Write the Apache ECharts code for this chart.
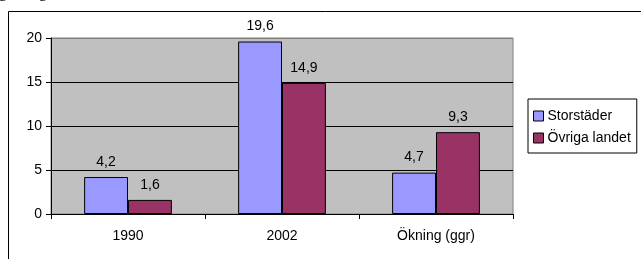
<!DOCTYPE html>
<html><head><meta charset="utf-8">
<script src="https://cdn.jsdelivr.net/npm/echarts@6/dist/echarts.min.js"></script>
<style>html,body{margin:0;padding:0;background:#fff}#c{width:641px;height:259px}</style>
</head><body><div id="c"></div>
<script>
var categories = ['1990', '2002', 'Ökning (ggr)'];
var storstader = [4.2, 19.6, 4.7];
var ovrigaLandet = [1.6, 14.9, 9.3];
var seriesNames = ['Storstäder', 'Övriga landet'];
var yTicks = {min: 0, max: 20, interval: 5};

var FONT = 'Liberation Sans, Arial, sans-serif';
function fmt(p){ return String(p.value).replace('.', ','); }
var chart = echarts.init(document.getElementById('c'), null, {renderer: 'canvas'});
chart.setOption({
  animation: false,
  backgroundColor: '#fff',
  textStyle: {fontFamily: FONT},
  graphic: [{
    type: 'rect', shape: {x: 8.5, y: 11.5, width: 700, height: 300},
    style: {fill: null, stroke: '#000', lineWidth: 1}, z: -1
  }, {
    type: 'text', x: -1, y: 1,
    style: {text: 'g', font: '16px "Liberation Serif", serif', fill: '#000', verticalAlign: 'bottom'}
  }, {
    type: 'text', x: 39, y: 1,
    style: {text: 'g', font: '16px "Liberation Serif", serif', fill: '#000', verticalAlign: 'bottom'}
  }],
  grid: {left: 51, top: 38, right: 128, bottom: 45, show: true,
    backgroundColor: '#C0C0C0', borderColor: '#808080', borderWidth: 1},
  legend: {
    orient: 'vertical', left: 528, top: 99,
    padding: [9, 6, 7, 5], itemGap: 6, itemWidth: 10, itemHeight: 10,
    borderColor: '#000', borderWidth: 1, backgroundColor: '#fff',
    icon: 'rect', itemStyle: {borderColor: '#000', borderWidth: 1},
    textStyle: {fontFamily: FONT, fontSize: 14, color: '#000', lineHeight: 16, padding: [0, 0, 0, -1]},
    data: seriesNames
  },
  xAxis: {
    type: 'category', data: categories,
    axisLine: {lineStyle: {color: '#000', width: 1}},
    axisTick: {show: true, length: 5, lineStyle: {color: '#000'}},
    axisLabel: {fontFamily: FONT, fontSize: 14, color: '#000', margin: 15}
  },
  yAxis: {
    type: 'value', min: yTicks.min, max: yTicks.max, interval: yTicks.interval,
    axisLine: {show: true, lineStyle: {color: '#000', width: 1}},
    axisTick: {show: true, length: 5, lineStyle: {color: '#000'}},
    axisLabel: {fontFamily: FONT, fontSize: 14, color: '#000', margin: 9},
    splitLine: {show: true, lineStyle: {color: ['#000', '#000', '#000', '#000', '#808080'], width: 1}}
  },
  series: [{
    name: seriesNames[0], type: 'bar', data: storstader,
    barGap: '0%', barCategoryGap: '43%',
    itemStyle: {color: '#9999FF', borderColor: '#000', borderWidth: 1},
    label: {show: true, position: 'top', distance: 8, formatter: fmt,
      fontFamily: FONT, fontSize: 14, color: '#000'}
  }, {
    name: seriesNames[1], type: 'bar', data: ovrigaLandet,
    barGap: '0%', barCategoryGap: '43%',
    itemStyle: {color: '#993366', borderColor: '#000', borderWidth: 1},
    label: {show: true, position: 'top', distance: 8, formatter: fmt,
      fontFamily: FONT, fontSize: 14, color: '#000'}
  }]
});
</script></body></html>
